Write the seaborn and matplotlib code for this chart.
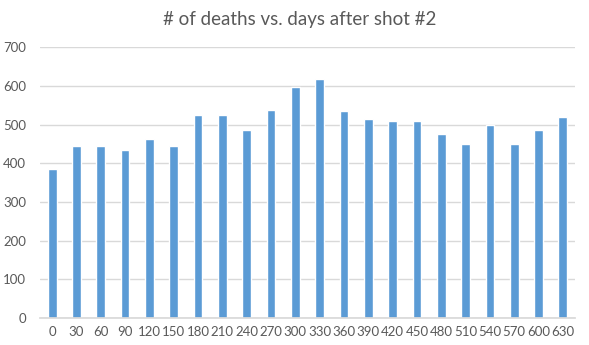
import matplotlib
matplotlib.use("Agg")
import matplotlib.pyplot as plt
import seaborn as sns
import pandas as pd

days = [0, 30, 60, 90, 120, 150, 180, 210, 240, 270, 300, 330, 360, 390, 420, 450, 480, 510, 540, 570, 600, 630]
deaths = [386, 445, 445, 435, 464, 445, 526, 526, 485, 539, 598, 617, 534, 515, 510, 510, 477, 451, 500, 451, 485, 521]
title = "# of deaths vs. days after shot #2"

sns.set_theme(style="white")
plt.rcParams['font.family'] = ['Lato', 'DejaVu Sans']

df = pd.DataFrame({"day": [str(d) for d in days], "deaths": deaths})

fig = plt.figure(figsize=(5.89, 3.45), dpi=100)
ax = fig.add_axes([40/589, 1-318/345, 535/589, (318-47.3)/345])
sns.barplot(data=df, x="day", y="deaths", order=df["day"], color="#5B9BD5",
            saturation=1, width=0.36, ax=ax)
ax.set_ylim(0, 700)
ax.set_xlim(-0.5, len(days) - 0.5)
ax.set_yticks(range(0, 701, 100))
ax.yaxis.grid(True, color="#D9D9D9", linewidth=1)
ax.set_axisbelow(True)
for s in ["top", "right", "left"]:
    ax.spines[s].set_visible(False)
ax.spines["bottom"].set_color("#D9D9D9")
ax.tick_params(axis="both", length=0, labelsize=9.5, colors="#595959")
ax.tick_params(axis="y", pad=10)
ax.tick_params(axis="x", pad=6)
ax.set_xlabel("")
ax.set_ylabel("")
fig.text(300/589, 1-20/345, title, ha="center", va="center", fontsize=13.5, color="#595959")
fig.savefig("out.png", dpi=100)
